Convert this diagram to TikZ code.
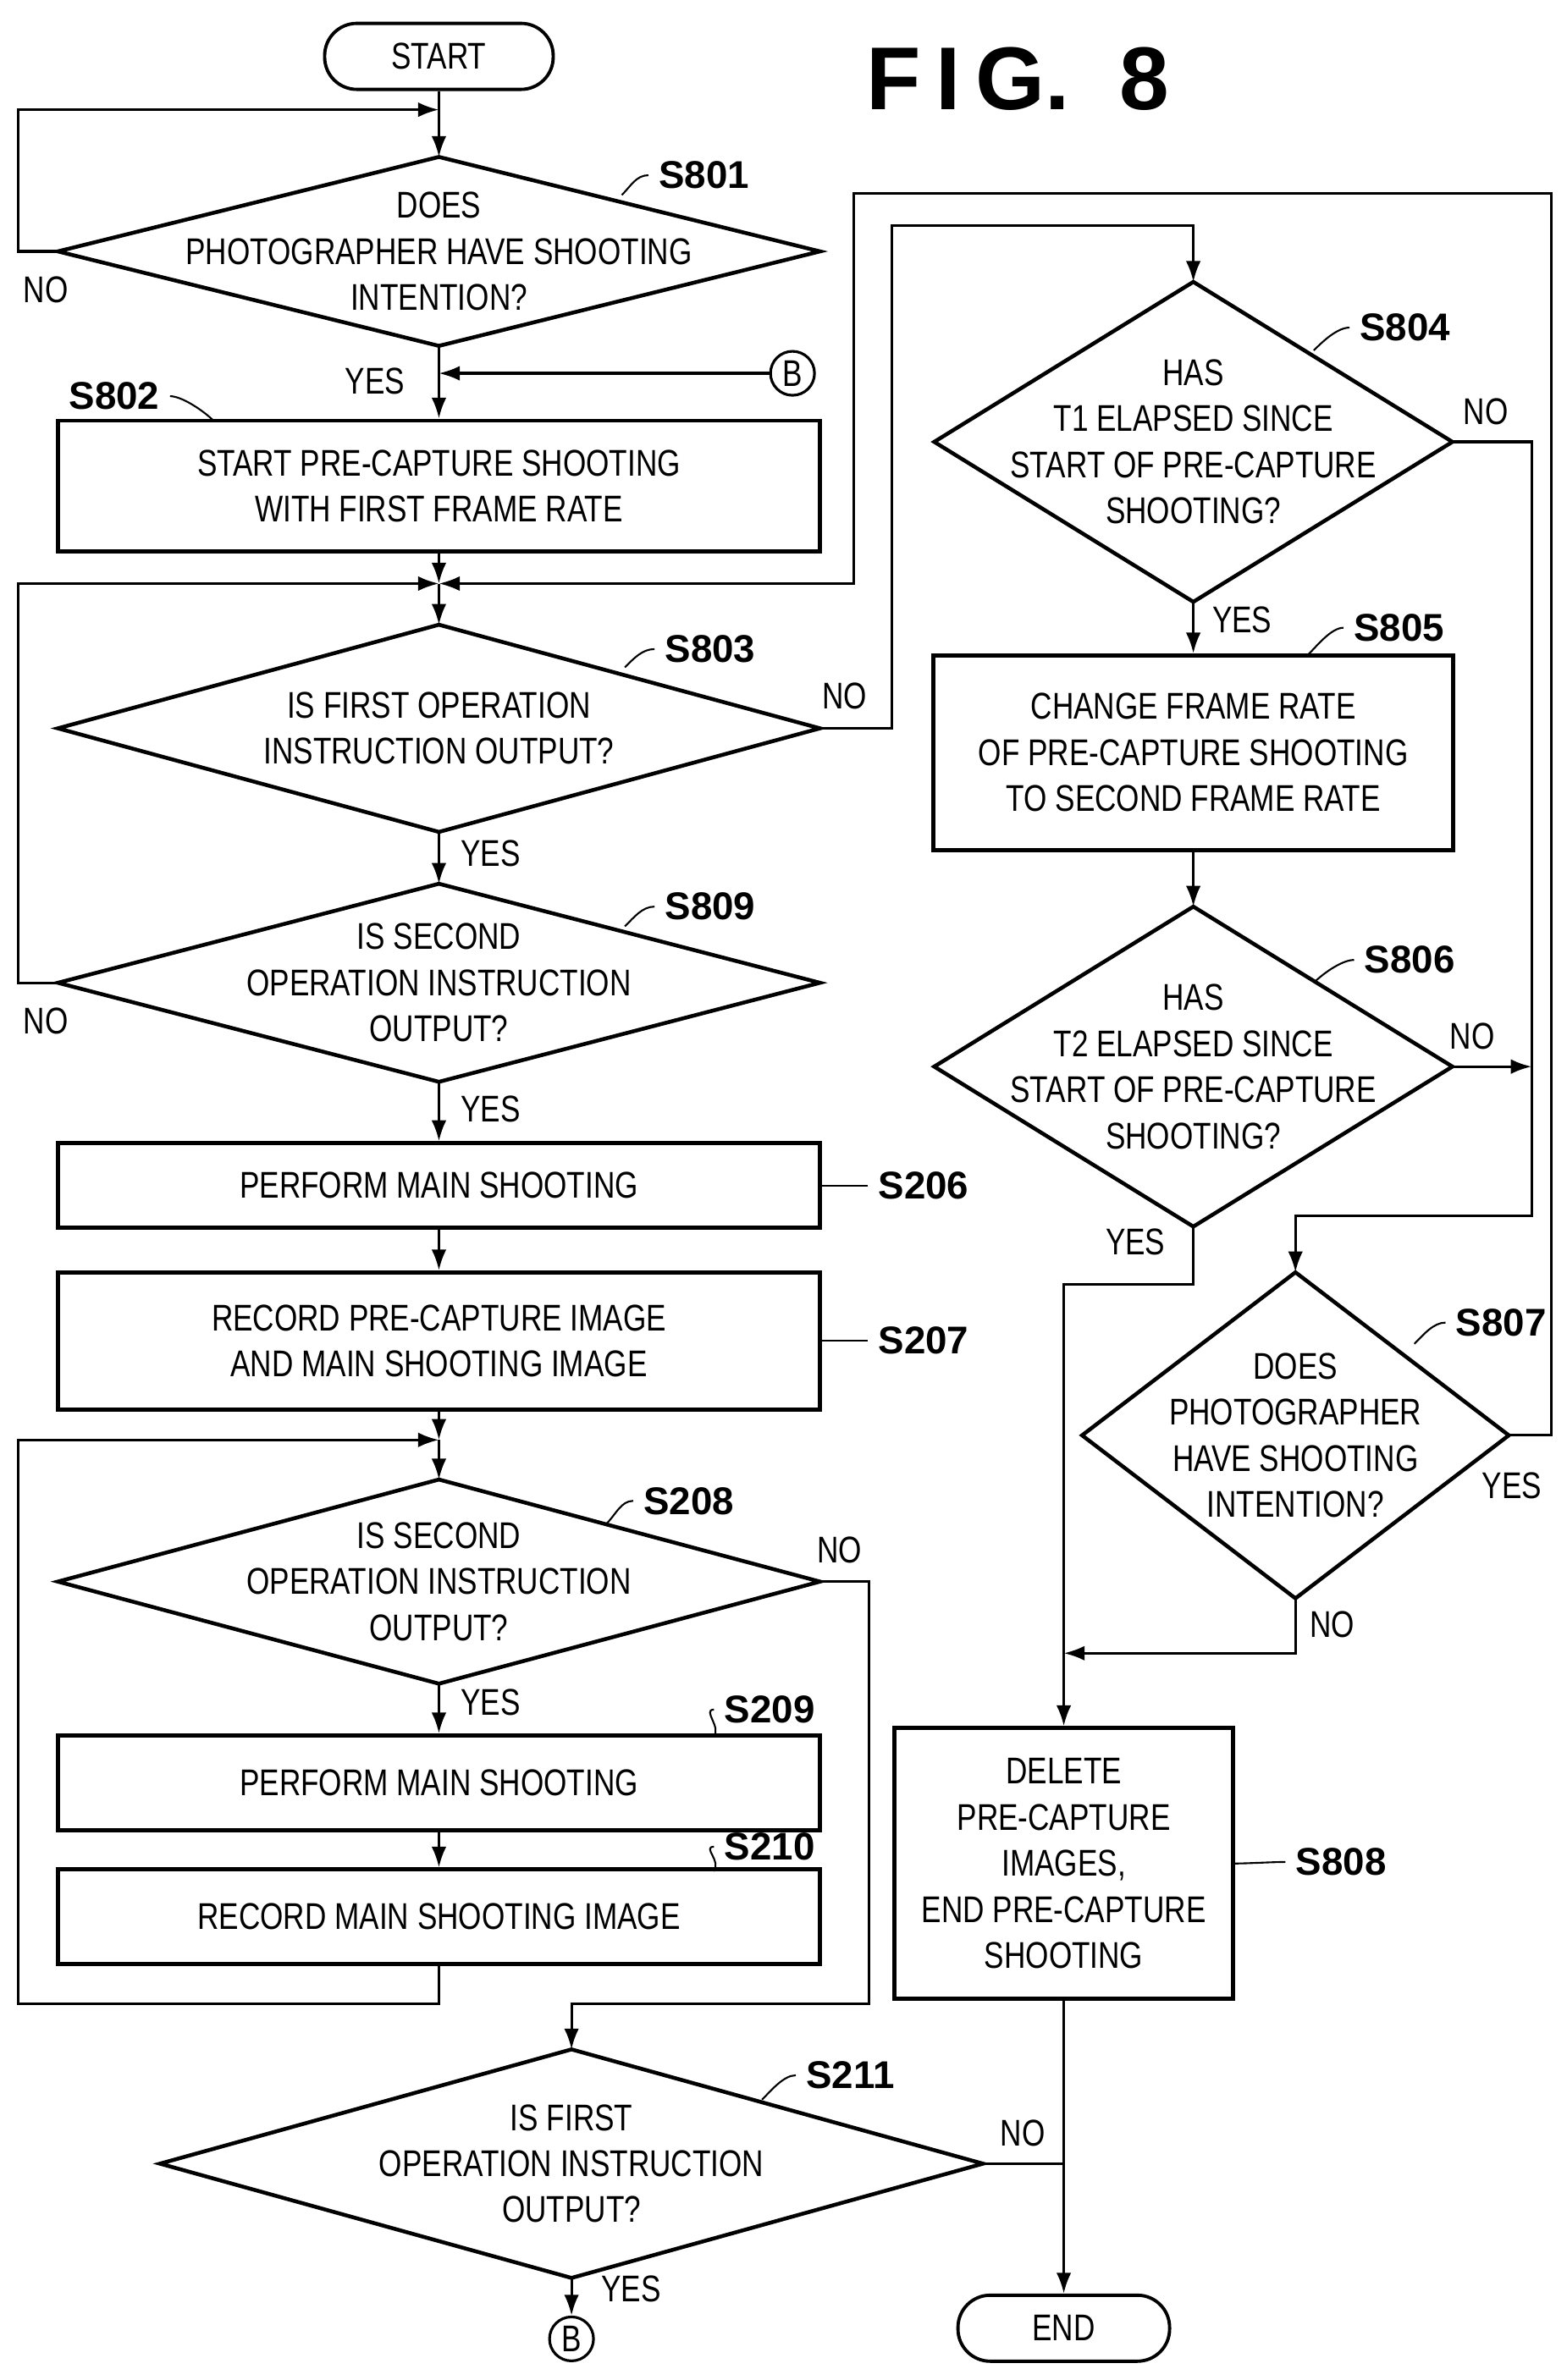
\documentclass[tikz,border=0pt]{standalone}
\usepackage{fontspec}
\setmainfont{Liberation Sans}
\newfontfamily\narrowfont[FakeStretch=0.8]{Liberation Sans}
\usetikzlibrary{arrows.meta,positioning}
\tikzset{
  line/.style={draw, line width=0.9pt},
  flow/.style={line, -{Latex[length=7pt,width=5pt]}},
  dtext/.style={align=center, font=\narrowfont\fontsize{12.5}{15.5}\selectfont, inner sep=0pt},
  process/.style={draw, line width=1.3pt, minimum width=9cm, align=center,
    font=\narrowfont\fontsize{12.5}{15.5}\selectfont},
  terminal/.style={draw, line width=1.1pt, rounded corners=0.38cm, minimum height=0.78cm,
    font=\narrowfont\fontsize{12.5}{15.5}\selectfont},
  tag/.style={font=\bfseries\fontsize{13}{15}\selectfont},
  yn/.style={font=\narrowfont\fontsize{12.5}{15}\selectfont, inner sep=1pt},
  conn/.style={draw, circle, line width=0.9pt, minimum size=0.52cm, inner sep=0pt,
    font=\narrowfont\fontsize{12.5}{15}\selectfont}
}
% decision: name, x, y, half width, half height, text
\newcommand{\decision}[6]{
  \node[dtext] (#1) at (#2,#3) {#6};
  \coordinate (#1 n) at (#2,{#3-#5});
  \coordinate (#1 s) at (#2,{#3+#5});
  \coordinate (#1 e) at ({#2+#4},#3);
  \coordinate (#1 w) at ({#2-#4},#3);
  \draw[line, line width=1.3pt] (#1 n) -- (#1 e) -- (#1 s) -- (#1 w) -- cycle;
}
% step tag with its little curl
\newcommand{\steptag}[4]{
  \node[tag, anchor=west] (#1) at (#2,#3) {#4};
  \draw[line, line width=0.6pt] (#1.west) .. controls +(-8,2) and +(8,-6) .. ++(-28,14);
}
\begin{document}
\begin{tikzpicture}[x=0.018cm, y=-0.018cm]
  \useasboundingbox (0,0) rectangle (1028,1562);

  \node[font=\bfseries\fontsize{30}{30}\selectfont] (fig) at (668,52) {F\,I\,G.\ \ 8};

  % left column
  \node[terminal, minimum width=2.7cm] (start) at (288,37) {START};
  \coordinate (m1) at (288,72);
  \decision{s801}{288}{165}{250}{62}{DOES\\PHOTOGRAPHER HAVE SHOOTING\\INTENTION?}
  \node[tag] (t801) at (462,115) {S801};
  \draw[line, line width=0.6pt] (t801.west) .. controls +(-8,0) and +(6,-6) .. (408,128);

  \node[conn] (b1) at (520,245) {B};
  \coordinate (m2) at (288,245);
  \node[process, minimum height=1.55cm] (s802) at (288,319) {START PRE-CAPTURE SHOOTING\\WITH FIRST FRAME RATE};
  \node[tag] (t802) at (75,260) {S802};
  \draw[line, line width=0.6pt] (t802.east) .. controls +(8,0) and +(-6,-6) .. (140,276);

  \coordinate (m3) at (288,383);
  \decision{s803}{288}{478}{250}{68}{IS FIRST OPERATION\\INSTRUCTION OUTPUT?}
  \node[tag] (t803) at (466,426) {S803};
  \draw[line, line width=0.6pt] (t803.west) .. controls +(-8,0) and +(6,-6) .. (410,438);

  \decision{s809}{288}{645}{250}{65}{IS SECOND\\OPERATION INSTRUCTION\\OUTPUT?}
  \node[tag] (t809) at (466,595) {S809};
  \draw[line, line width=0.6pt] (t809.west) .. controls +(-8,0) and +(6,-6) .. (410,608);

  \node[process, minimum height=1cm] (s206) at (288,778) {PERFORM MAIN SHOOTING};
  \node[tag] (t206) at (606,778) {S206};
  \draw[line, line width=0.6pt] (t206.west) .. controls +(-8,0) and +(8,0) .. (s206.east);
  \node[process, minimum height=1.62cm] (s207) at (288,880) {RECORD PRE-CAPTURE IMAGE\\AND MAIN SHOOTING IMAGE};
  \node[tag] (t207) at (606,880) {S207};
  \draw[line, line width=0.6pt] (t207.west) .. controls +(-8,0) and +(8,0) .. (s207.east);

  \coordinate (m4) at (288,945);
  \decision{s208}{288}{1038}{250}{67}{IS SECOND\\OPERATION INSTRUCTION\\OUTPUT?}
  \node[tag] (t208) at (452,985) {S208};
  \draw[line, line width=0.6pt] (t208.west) .. controls +(-8,0) and +(6,-6) .. (398,1000);
  \node[process, minimum height=1.12cm] (s209) at (288,1170) {PERFORM MAIN SHOOTING};
  \node[tag] (t209) at (505,1122) {S209};
  \draw[line, line width=0.6pt] (t209.west) .. controls +(-8,0) and +(6,-6) .. (468,1140);
  \node[process, minimum height=1.12cm] (s210) at (288,1258) {RECORD MAIN SHOOTING IMAGE};
  \node[tag] (t210) at (505,1212) {S210};
  \draw[line, line width=0.6pt] (t210.west) .. controls +(-8,0) and +(6,-6) .. (468,1228);

  \decision{s211}{375}{1420}{270}{75}{IS FIRST\\OPERATION INSTRUCTION\\OUTPUT?}
  \node[tag] (t211) at (558,1362) {S211};
  \draw[line, line width=0.6pt] (t211.west) .. controls +(-8,0) and +(6,-6) .. (500,1378);
  \node[conn] (b2) at (375,1535) {B};

  % right column
  \decision{s804}{783}{290}{170}{105}{HAS\\T1 ELAPSED SINCE\\START OF PRE-CAPTURE\\SHOOTING?}
  \node[tag] (t804) at (922,215) {S804};
  \draw[line, line width=0.6pt] (t804.west) .. controls +(-8,0) and +(6,-6) .. (862,230);
  \node[process, minimum width=6.14cm, minimum height=2.3cm] (s805) at (783,494) {CHANGE FRAME RATE\\OF PRE-CAPTURE SHOOTING\\TO SECOND FRAME RATE};
  \node[tag] (t805) at (918,412) {S805};
  \draw[line, line width=0.6pt] (t805.west) .. controls +(-8,0) and +(6,-6) .. (858,430);
  \decision{s806}{783}{700}{170}{105}{HAS\\T2 ELAPSED SINCE\\START OF PRE-CAPTURE\\SHOOTING?}
  \node[tag] (t806) at (925,630) {S806};
  \draw[line, line width=0.6pt] (t806.west) .. controls +(-8,0) and +(6,-6) .. (862,645);
  \coordinate (m7) at (1005,700);
  \decision{s807}{850}{942}{140}{107}{DOES\\PHOTOGRAPHER\\HAVE SHOOTING\\INTENTION?}
  \node[tag] (t807) at (985,868) {S807};
  \draw[line, line width=0.6pt] (t807.west) .. controls +(-8,0) and +(6,-6) .. (928,882);
  \coordinate (m8) at (698,1085);
  \node[process, minimum width=4cm, minimum height=3.2cm] (s808) at (698,1223) {DELETE\\PRE-CAPTURE\\IMAGES,\\END PRE-CAPTURE\\SHOOTING};
  \node[tag] (t808) at (880,1222) {S808};
  \draw[line, line width=0.6pt] (t808.west) .. controls +(-8,0) and +(8,0) .. (s808.east);
  \coordinate (m6) at (698,1420);
  \node[terminal, minimum width=2.5cm] (end) at (698,1528) {END};

  % connectors
  \draw[flow] (start) -- (s801 n);
  \draw[flow] (s801 w) -- ++(-26,0) |- (m1);
  \draw[flow] (s801 s) -- (s802);
  \draw[flow] (b1) -- (m2);
  \draw[flow] (s802) -- (m3);
  \draw[flow] (m3) -- (s803 n);
  \draw[flow] (s809 w) -- ++(-26,0) |- (m3);
  \draw[flow] (s807 e) -| (1018,127) -| (560,383) -- (m3);
  \draw[flow] (s803 e) -| (585,148) -| (s804 n);
  \draw[flow] (s803 s) -- (s809 n);
  \draw[flow] (s809 s) -- (s206);
  \draw[flow] (s206) -- (s207);
  \draw[flow] (s207) -- (m4);
  \draw[flow] (m4) -- (s208 n);
  \draw[flow] (s208 s) -- (s209);
  \draw[flow] (s209) -- (s210);
  \draw[flow] (s210.south) |- (12,1315) |- (m4);
  \draw[flow] (s208 e) -| (570,1315) -| (s211 n);
  \draw[flow] (s211 s) -- (b2);
  \draw[line] (s211 e) -- (m6);
  \draw[flow] (s808) -- (end);
  \draw[flow] (s804 s) -- (s805);
  \draw[flow] (s805) -- (s806 n);
  \draw[flow] (s804 e) -| (1005,798) -| (s807 n);
  \draw[flow] (s806 e) -- (m7);
  \draw[flow] (s806 s) -- ++(0,38) -| (s808);
  \draw[flow] (s807 s) |- (m8);

  % yes / no labels
  \node[yn] at (30,190) {NO};
  \node[yn] at (246,250) {YES};
  \node[yn] at (554,457) {NO};
  \node[yn] at (322,560) {YES};
  \node[yn] at (30,670) {NO};
  \node[yn] at (322,728) {YES};
  \node[yn] at (322,1117) {YES};
  \node[yn] at (551,1017) {NO};
  \node[yn] at (414,1502) {YES};
  \node[yn] at (671,1400) {NO};
  \node[yn] at (975,270) {NO};
  \node[yn] at (815,407) {YES};
  \node[yn] at (966,680) {NO};
  \node[yn] at (745,815) {YES};
  \node[yn] at (992,975) {YES};
  \node[yn] at (874,1066) {NO};
\end{tikzpicture}
\end{document}
